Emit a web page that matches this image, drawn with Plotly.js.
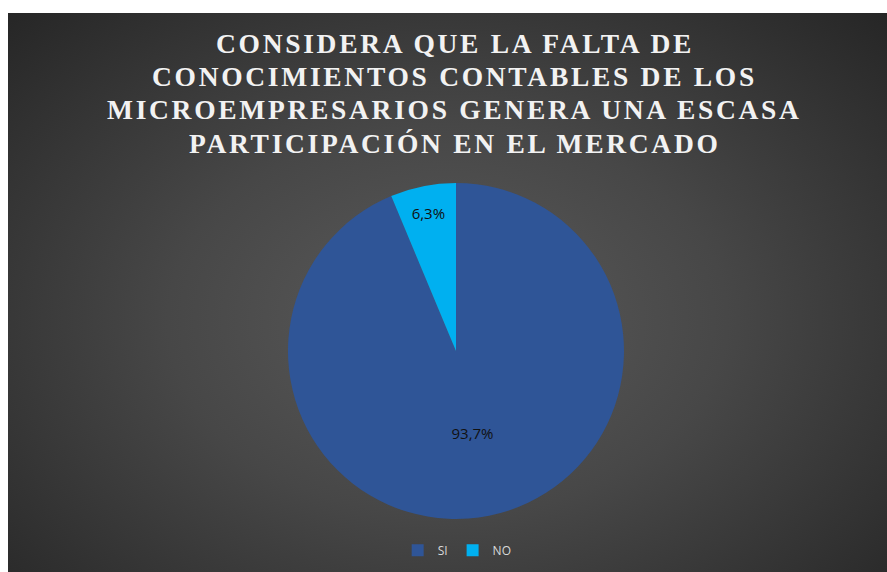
<!DOCTYPE html>
<html>
<head>
<meta charset="utf-8">
<script src="https://cdn.plot.ly/plotly-3.0.1.min.js"></script>
<style>
  html, body { margin: 0; padding: 0; background: #ffffff; width: 887px; height: 572px; overflow: hidden; }
  #chart { position: absolute; left: 8px; top: 13px; width: 879px; height: 559px;
    background: radial-gradient(ellipse at 50% 55%, #5b5b5b 0%, #474747 45%, #262626 100%); }
  .annotation-text { letter-spacing: 2.7px; }
</style>
</head>
<body>
<div id="chart"></div>
<script>
const titleLines = [
  "CONSIDERA QUE LA FALTA DE",
  "CONOCIMIENTOS CONTABLES DE LOS",
  "MICROEMPRESARIOS GENERA UNA ESCASA",
  "PARTICIPACIÓN EN EL MERCADO"
];
const categories = ["SI", "NO"];
const values = [93.7, 6.3];
const colors = ["#2F5597", "#00B0F0"];

const data = [{
  type: "pie",
  labels: categories,
  values: values,
  sort: false,
  direction: "clockwise",
  rotation: 0,
  marker: { colors: colors, line: { width: 0 } },
  texttemplate: "%{percent:.1%}",
  textposition: "inside",
  insidetextorientation: "horizontal",
  textfont: { family: "Open Sans", size: 15, color: "#111111" },
  hoverinfo: "none",
  domain: { x: [0.3185, 0.7008], y: [0.0948, 0.6959] }
}];

const titleTop = 30;
const titleStep = 33.4;
const annotations = titleLines.map((t, i) => ({
  text: "<b>" + t + "</b>",
  xref: "paper", yref: "paper",
  x: 0.5085, xanchor: "center",
  y: 1 - (titleTop + i * titleStep) / 559, yanchor: "middle",
  showarrow: false,
  font: { family: "Liberation Serif", size: 27.5, color: "#f2f2f2" }
}));

const layout = {
  width: 879,
  height: 559,
  margin: { l: 0, r: 0, t: 0, b: 0 },
  paper_bgcolor: "rgba(0,0,0,0)",
  plot_bgcolor: "rgba(0,0,0,0)",
  separators: ",.",
  annotations: annotations,
  showlegend: true,
  legend: {
    orientation: "h",
    x: 0.511,
    xanchor: "center",
    y: 0.039,
    yanchor: "middle",
    font: { family: "Open Sans", size: 12, color: "#d9d9d9" },
    bgcolor: "rgba(0,0,0,0)",
    itemwidth: 30
  }
};

Plotly.newPlot("chart", data, layout, { staticPlot: true, displayModeBar: false });
</script>
</body>
</html>
